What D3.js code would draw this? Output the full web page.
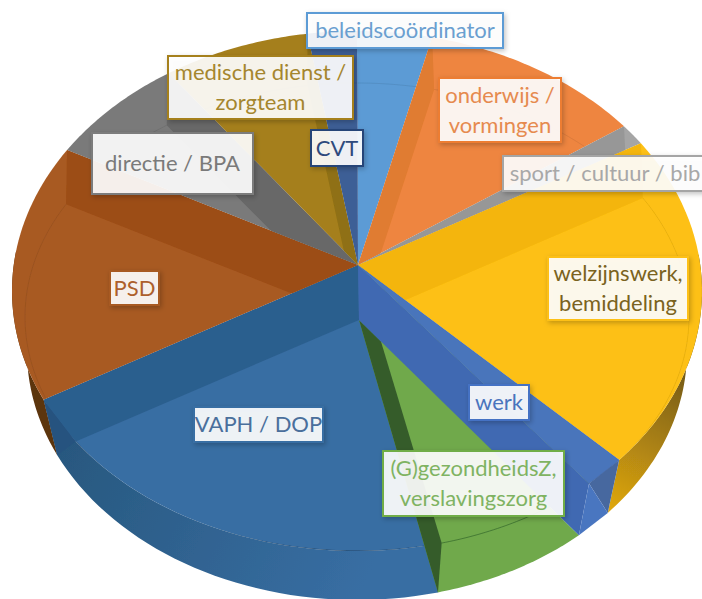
<!DOCTYPE html>
<html>
<head>
<meta charset="utf-8">
<script src="https://cdn.jsdelivr.net/npm/d3@7"></script>
<style>
  html, body { margin: 0; padding: 0; background: #fff; overflow: hidden; }
  text { font-family: Lato, "Open Sans", sans-serif; }
</style>
</head>
<body>
<div id="grafico"></div>
<script>
// clockwise from the top, shares (%)
const categorias = ["beleidscoördinator", "onderwijs / vormingen", "sport / cultuur / bib", "welzijnswerk, bemiddeling",
    "werk", "(G)gezondheidsZ, verslavingszorg", "VAPH / DOP", "PSD", "directie / BPA", "medische dienst / zorgteam", "CVT"];
const valores = [3.5, 10.6, 1.3, 20.9, 2.0, 7.8, 22.1, 16.0, 6.7, 6.9, 2.3];

const coloresCara = ["#5b9bd5", "#ee8540", "#a5a5a5", "#fdc013", "#4a74bb", "#6fa94c", "#386ea3", "#a85a22", "#7a7a7a", "#a57f1c", "#3e5f96"];
const coloresPared = ["#4f8cc4", "#e07b30", "#979797", "#f4b50f", "#3f69b2", "#365c2b", "#2c5f8e", "#9c4d16", "#676767", "#8f6f12", "#2f4d80"];
const coloresTexto = ["#6a9fd0", "#e68a4e", "#a8a8a8", "#7a6320", "#4a74bd", "#7fb362", "#4a6f9c", "#ad5f2c", "#7a7a7a", "#a5862e", "#2f4a7c"];
const coloresBorde = ["#5b9bd5", "#ed7d31", "#a5a5a5", "#fdc013", "#4472c4", "#70ad47", "#386ea3", "#a85a22", "#7b7b7b", "#a5801a", "#264478"];

const width = 702, height = 599;

// the three ellipses of the 3D pie and its two centres
const tapa = { cx: 357, cy: 291, rx: 345, ry: 260 };
const piso = { cx: 357, cy: 317, rx: 332, ry: 234 };
const base = { cx: 357, cy: 351, rx: 330, ry: 249 };
const C1 = [358, 265];
const C2 = [359, 320];

const enElipse = (e, t) => [e.cx + e.rx * Math.sin(t), e.cy - e.ry * Math.cos(t)];
const lid = t => enElipse(tapa, t);
const low = t => enElipse(base, t);

// ray from C2, parallel to the top edge at angle t, until it hits the floor ellipse
function floorPt(t) {
    const p = lid(t);
    const dx = (p[0] - C1[0]) / piso.rx, dy = (p[1] - C1[1]) / piso.ry;
    const ox = (C2[0] - piso.cx) / piso.rx, oy = (C2[1] - piso.cy) / piso.ry;
    const a = dx * dx + dy * dy, b = 2 * (ox * dx + oy * dy), c = ox * ox + oy * oy - 1;
    const k = (-b + Math.sqrt(b * b - 4 * a * c)) / (2 * a);
    return [C2[0] + k * (p[0] - C1[0]), C2[1] + k * (p[1] - C1[1])];
}

const arco = (f, t1, t2) => d3.range(0, 41).map(i => f(t1 + (t2 - t1) * i / 40));
const linea = d3.line();
const poly = pts => linea(pts) + "Z";

const arcos = d3.pie().sort(null).value(d => d).startAngle(0).endAngle(2 * Math.PI)(valores)
    .map((d, i) => ({ i, t1: d.startAngle, t2: d.endAngle }));
const gajo = i => arcos[i];
const iWelzijn = 3, iWerk = 4, iGroen = 5, iVaph = 6, iPsd = 7;

const svg = d3.select("#grafico").append("svg").attr("width", width).attr("height", height);
const defs = svg.append("defs");

const sombra = defs.append("filter").attr("id", "sombra").attr("x", "-20%").attr("y", "-20%").attr("width", "150%").attr("height", "150%");
sombra.append("feDropShadow").attr("dx", 1.5).attr("dy", 2).attr("stdDeviation", 2.5).attr("flood-color", "#000").attr("flood-opacity", 0.25);
defs.append("filter").attr("id", "blando").append("feGaussianBlur").attr("stdDeviation", 0.5);

function gradiente(id, a, b, c1, c2) {
    const g = defs.append("linearGradient").attr("id", id).attr("gradientUnits", "userSpaceOnUse")
        .attr("x1", a[0]).attr("y1", a[1]).attr("x2", b[0]).attr("y2", b[1]);
    g.append("stop").attr("offset", 0).attr("stop-color", c1);
    g.append("stop").attr("offset", 1).attr("stop-color", c2);
}
gradiente("ladoAmarillo", low(gajo(iWelzijn).t2), lid(Math.PI * 0.56), "#e2a90f", "#5e4a18");
gradiente("ladoAzul", low(gajo(iVaph).t2), low(Math.PI), "#28587f", "#386ea3");

const pie3d = svg.append("g").attr("filter", "url(#blando)");

// outer side walls, under everything
const lados = [
    { i: iWelzijn, t1: Math.PI / 2.2, t2: gajo(iWelzijn).t2, fill: "url(#ladoAmarillo)" },
    { i: iVaph, t1: gajo(iVaph).t1, t2: gajo(iVaph).t2, fill: "url(#ladoAzul)" },
    { i: iPsd, t1: gajo(iPsd).t1, t2: Math.PI * 1.55, fill: "#5b3410" }
];
pie3d.selectAll(".lado").data(lados).enter().append("path")
    .attr("class", "lado")
    .attr("d", d => poly(arco(lid, d.t1, d.t2).concat(arco(low, d.t2, d.t1))))
    .attr("fill", d => d.fill);

// top wedges
const wedge = d => poly([C1].concat(arco(lid, d.t1, d.t2)));
arcos.forEach(d => {
    defs.append("clipPath").attr("id", "clip" + d.i).append("path").attr("d", wedge(d));
});
pie3d.selectAll(".cara").data(arcos).enter().append("path")
    .attr("class", "cara")
    .attr("d", wedge)
    .attr("fill", d => coloresCara[d.i]);

// inner wall band: start edge on the right half, end edge on the left half
const conBanda = arcos.filter(d => d.i !== iWerk && d.i !== iGroen && d.i !== 0);
pie3d.selectAll(".banda").data(conBanda).enter().append("path")
    .attr("class", "banda")
    .attr("clip-path", d => `url(#clip${d.i})`)
    .attr("d", d => {
        const t = d.t1 < Math.PI / 2 ? d.t1 : d.t2;
        return poly([C1, lid(t), floorPt(t), C2]);
    })
    .attr("fill", d => coloresPared[d.i]);

// faint floor arc seen through the top
pie3d.selectAll(".piso").data(arcos.filter(d => d.i !== iWerk && d.i !== iGroen)).enter().append("path")
    .attr("class", "piso")
    .attr("clip-path", d => `url(#clip${d.i})`)
    .attr("d", d => linea(arco(floorPt, d.t1, d.t2)))
    .attr("fill", "none")
    .attr("stroke", "#000")
    .attr("stroke-opacity", d => d.i === iVaph ? 0.35 : 0.08);

// dark corner where VAPH meets PSD
const tv = gajo(iVaph).t2;
pie3d.append("path").attr("d", poly([lid(tv), floorPt(tv), low(tv)])).attr("fill", "#25527f");

// green slice runs from C2 down to the bottom ellipse
const g = gajo(iGroen);
pie3d.append("path").attr("d", poly([C2].concat(arco(low, g.t1, g.t2)))).attr("fill", coloresCara[iGroen]);
pie3d.append("path").attr("d", linea(arco(lid, g.t1, g.t2))).attr("fill", "none").attr("stroke", "#35662a").attr("stroke-opacity", 0.7);
const pVerde = [C2[0] + 0.1 * (low(g.t1)[0] - C2[0]), C2[1] + 0.1 * (low(g.t1)[1] - C2[1])];
pie3d.append("path").attr("d", poly([C2, pVerde, lid(g.t2), low(g.t2)])).attr("fill", coloresPared[iGroen]);

// werk slice with its box-like end
const w = gajo(iWerk);
pie3d.append("path").attr("d", poly([C1, lid(w.t1), lid(w.t2)])).attr("fill", coloresCara[iWerk]);
pie3d.append("path").attr("d", poly([C1, lid(w.t2), low(w.t2), C2])).attr("fill", coloresPared[iWerk]);
pie3d.append("path").attr("d", poly([lid(w.t1), lid(w.t2), low(w.t1)])).attr("fill", "#46689f");
pie3d.append("path").attr("d", poly([lid(w.t2), low(w.t2), low(w.t1)])).attr("fill", "#4a76c0");

// labels
const etiquetas = [
    { i: 0, x: 307, y: 13, w: 196, h: 35, lineas: ["beleidscoördinator"] },
    { i: 9, x: 168, y: 56, w: 185, h: 63, lineas: ["medische dienst /", "zorgteam"] },
    { i: 10, x: 311, y: 130, w: 52, h: 36, lineas: ["CVT"] },
    { i: 1, x: 439, y: 78, w: 122, h: 64, lineas: ["onderwijs /", "vormingen"] },
    { i: 2, x: 503, y: 156, w: 204, h: 35, lineas: ["sport / cultuur / bib"] },
    { i: 3, x: 548, y: 257, w: 140, h: 63, lineas: ["welzijnswerk,", "bemiddeling"] },
    { i: 7, x: 110, y: 271, w: 49, h: 34, lineas: ["PSD"] },
    { i: 8, x: 92, y: 133, w: 161, h: 61, lineas: ["directie / BPA"] },
    { i: 6, x: 194, y: 407, w: 129, h: 35, lineas: ["VAPH / DOP"] },
    { i: 4, x: 469, y: 385, w: 60, h: 35, lineas: ["werk"] },
    { i: 5, x: 383, y: 451, w: 181, h: 65, lineas: ["(G)gezondheidsZ,", "verslavingszorg"] }
];

const grupos = svg.selectAll(".etiqueta").data(etiquetas).enter().append("g").attr("class", "etiqueta");
grupos.append("rect")
    .attr("x", d => d.x).attr("y", d => d.y).attr("width", d => d.w).attr("height", d => d.h)
    .attr("fill", "#fff").attr("fill-opacity", 0.9)
    .attr("stroke", d => coloresBorde[d.i]).attr("stroke-width", 2)
    .attr("filter", "url(#sombra)");
grupos.each(function(d) {
    const lh = 30, n = d.lineas.length;
    d3.select(this).selectAll("text").data(d.lineas).enter().append("text")
        .attr("x", d.x + d.w / 2)
        .attr("y", (l, k) => d.y + d.h / 2 + (k - (n - 1) / 2) * lh)
        .attr("dy", "0.35em")
        .attr("text-anchor", "middle")
        .attr("font-size", "22px")
        .attr("fill", coloresTexto[d.i])
        .text(l => l);
});
</script>
</body>
</html>
